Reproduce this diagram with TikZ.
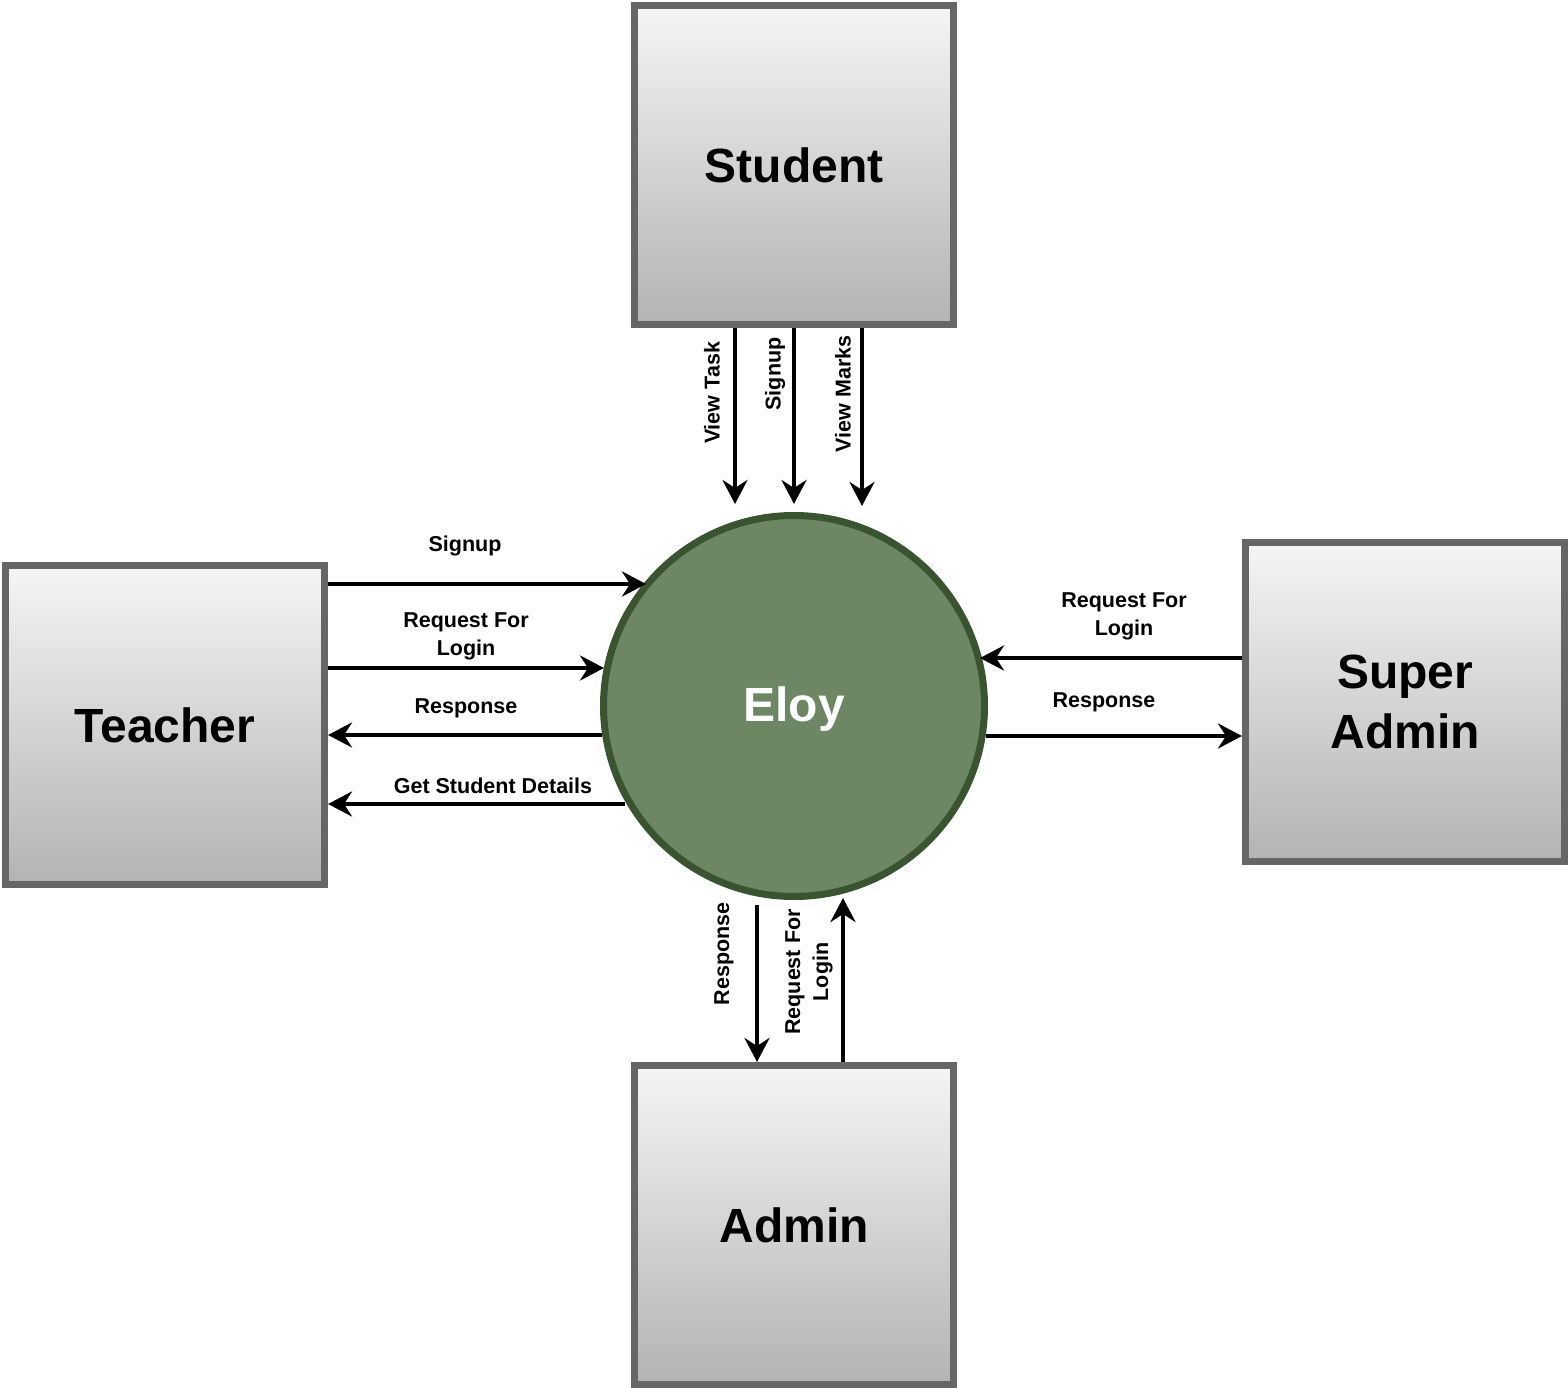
\documentclass[tikz,border=0pt]{standalone}
\usepackage{fontspec}
\setmainfont{Liberation Sans}
\usetikzlibrary{arrows.meta,calc}
\definecolor{boxline}{HTML}{666666}
\definecolor{gradtop}{HTML}{F5F5F5}
\definecolor{gradbot}{HTML}{B3B3B3}
\definecolor{eloyfill}{HTML}{6D8764}
\definecolor{eloyline}{HTML}{3A5431}
\tikzset{
  entity/.style={rectangle, draw=boxline, line width=7pt, top color=gradtop, bottom color=gradbot,
    minimum width=319pt, minimum height=319pt, inner sep=0pt, align=center,
    font=\fontsize{48}{60}\selectfont\bfseries},
  proc/.style={circle, draw=eloyline, fill=eloyfill, line width=7pt, minimum size=381pt, inner sep=0pt,
    text=white, font=\fontsize{48}{58}\selectfont\bfseries},
  arr/.style={line width=4pt, -{Stealth[length=24pt,width=25pt,inset=8pt]}},
  lbl/.style={font=\fontsize{21.5}{28}\selectfont\bfseries, align=center, inner sep=0pt},
}
\begin{document}
\begin{tikzpicture}[x=1pt,y=-1pt]
\useasboundingbox (0,0) rectangle (1568,1388);
\node[entity] (student) at (794,165) {Student};
\node[entity] (teacher) at (165,725) {Teacher};
\node[entity] (super) at (1405,702) {Super\\Admin};
\node[entity] (admin) at (794,1225) {Admin};
\node[proc] (eloy) at (794,706) {};
\node[text=white, font=\fontsize{48}{58}\selectfont\bfseries] (eloytxt) at (794,709) {Eloy};

% student arrows
\coordinate (vt) at (735,504);
\coordinate (su) at (794,504);
\coordinate (vm) at (862,506);
\draw[arr] (student.south -| vt) -- (vt);
\draw[arr] (student.south -| su) -- (su);
\draw[arr] (student.south -| vm) -- (vm);
\node[lbl, rotate=90] (lvt) at (712,393) {View Task};
\node[lbl, rotate=90] (lsu) at (775,374) {Signup};
\node[lbl, rotate=90] (lvm) at (843,394) {View Marks};

% teacher arrows
\coordinate (ts) at (646,584);
\coordinate (tr) at (604,668);
\coordinate (tp) at (602,735);
\coordinate (tg) at (625,804);
\draw[arr] (teacher.east |- ts) -- (ts);
\draw[arr] (teacher.east |- tr) -- (tr);
\draw[arr] (tp) -- (teacher.east |- tp);
\draw[arr] (tg) -- (teacher.east |- tg);
\node[lbl] (lts) at (465,546) {Signup};
\node[lbl] (ltr) at (466,636) {Request For\\Login};
\node[lbl] (ltp) at (466,708) {Response};
\node[lbl] (ltg) at (493,786) {Get Student Details};

% super admin arrows
\coordinate (sr) at (980,658);
\coordinate (sp) at (986,736);
\draw[arr] (super.west |- sr) -- (sr);
\draw[arr] (sp) -- (super.west |- sp);
\node[lbl] (lsr) at (1124,616) {Request For\\Login};
\node[lbl] (lsp) at (1104,702) {Response};

% admin arrows
\coordinate (ap) at (757,905);
\coordinate (ar) at (843,898);
\draw[arr] (ap) -- (admin.north -| ap);
\draw[arr] (admin.north -| ar) -- (ar);
\node[lbl, rotate=90] (lap) at (724,954) {Response};
\node[lbl, rotate=90] (lar) at (809,972) {Request For\\Login};
\end{tikzpicture}
\end{document}
